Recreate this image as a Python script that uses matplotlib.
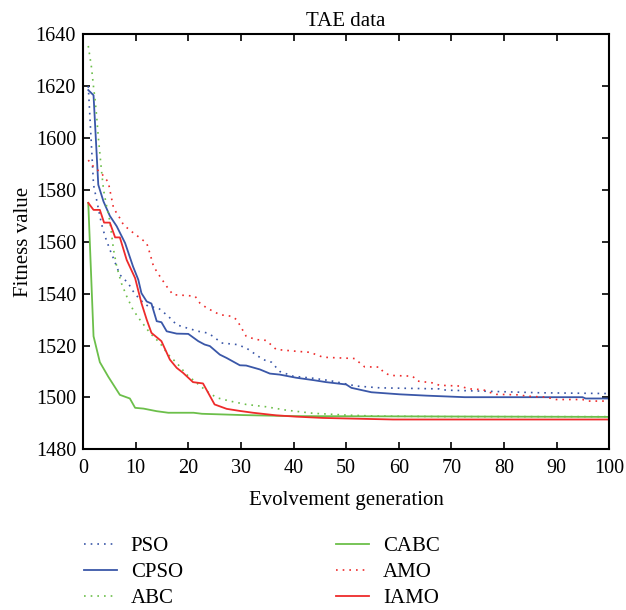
import numpy as np
import matplotlib
matplotlib.use("Agg")
import matplotlib.pyplot as plt

plt.rcParams['font.family'] = ['Liberation Serif', 'DejaVu Serif']
plt.rcParams['mathtext.fontset'] = 'stix'

# values (generation, fitness)
pso_x = [1, 2, 3, 3.5, 4.2, 5.1, 6.1, 7, 8.6, 9.5, 10.8, 12.4, 14.3, 16.2, 17.8, 19.7, 21.9,
         23.5, 24.7, 26.3, 29.2, 31, 34.2, 35.8, 37.4, 39.9, 43.7, 46.9, 50, 51.9, 56.4,
         67.7, 69, 76.6, 86.7, 100]
pso_y = [1620, 1582, 1572, 1567, 1562, 1557, 1552, 1547.3, 1544, 1541, 1537.7, 1535.1, 1534.5,
         1531.3, 1528, 1526.8, 1525.5, 1524.9, 1523.6, 1521, 1520.4, 1519.1, 1514.6, 1513.6,
         1510, 1508.2, 1507.4, 1506.5, 1505.2, 1504.4, 1503.7, 1503.3, 1502.8, 1502.4, 1501.8,
         1501.5]

cpso_x = [1, 2, 2.9, 3.9, 5.1, 6.4, 8, 9.5, 10.5, 11.1, 12.1, 13, 14, 14.9, 15.9, 17.8, 20,
          21.9, 23.1, 24.1, 26, 27.3, 29.8, 31, 33.6, 35.5, 37.4, 40.5, 43.7, 46.2, 50, 51,
          54.8, 60.2, 65.2, 72.5, 94.9, 95.5, 100]
cpso_y = [1618.5, 1616.5, 1582, 1575.5, 1570, 1566, 1559.5, 1550.5, 1545.4, 1540.2, 1537,
          1536.2, 1529.4, 1529, 1525.5, 1524.6, 1524.5, 1521.7, 1520.4, 1519.8, 1516.5, 1515.2,
          1512.4, 1512.3, 1510.8, 1509.2, 1508.8, 1507.6, 1506.7, 1505.9, 1505, 1503.7, 1502,
          1501.2, 1500.7, 1500.1, 1500.1, 1499.6, 1499.6]

abc_x = [1, 1.6, 2, 2.3, 2.6, 2.9, 3.2, 3.5, 3.9, 4.5, 5.1, 5.8, 6.4, 7.3, 8.3, 9.5, 10.8,
         12.7, 14.6, 16.2, 17.8, 19.7, 21.6, 23.5, 25.4, 27.9, 31, 34.8, 38.6, 43.7, 50, 56,
         70, 100]
abc_y = [1635.5, 1627.4, 1619.7, 1614.6, 1608.2, 1600.5, 1594.1, 1587.7, 1580, 1573.6, 1568,
         1557, 1550.5, 1544, 1539, 1533.8, 1530, 1524.9, 1521, 1516.5, 1513.3, 1508.8, 1505.6,
         1502.4, 1499.9, 1498.6, 1497.3, 1496.4, 1495.1, 1493.9, 1493.2, 1492.8, 1492.6,
         1492.6]

cabc_x = [1, 2, 3.2, 4.8, 7, 8.9, 9.9, 11.5, 14, 16.2, 21, 22.6, 30.4, 40, 100]
cabc_y = [1575, 1523.6, 1513.6, 1508, 1501, 1499.6, 1496, 1495.7, 1494.7, 1494.1, 1494.1,
          1493.7, 1493.2, 1492.8, 1492.5]

amo_x = [1, 1.8, 3.5, 4.8, 5.8, 7, 7.7, 9.2, 10.5, 12.1, 12.7, 13.4, 14.6, 15.9, 17.1, 19.7,
         21.3, 22.2, 23.5, 26, 28.2, 29.2, 30.1, 31, 32.9, 34.8, 36.7, 40.5, 43.1, 44.3,
         45.6, 51.6, 52.6, 53.5, 56.4, 57, 58.3, 62.6, 63.6, 66.5, 67.7, 71.5, 73.4, 76,
         77.2, 78.5, 83, 84.2, 88, 89.9, 94.9, 95.9, 100]
amo_y = [1591.5, 1589.4, 1586.4, 1583, 1573, 1569.1, 1566.5, 1564, 1562, 1559.5, 1555.6,
         1550.5, 1546.7, 1542.8, 1539.6, 1539.3, 1539, 1536.4, 1534.5, 1531.9, 1531.3, 1530,
         1526.8, 1523.6, 1522.3, 1522, 1518.5, 1517.8, 1517.4, 1516.5, 1515.5, 1515, 1513.3,
         1511.8, 1511.7, 1509.9, 1508.5, 1508.2, 1506.3, 1505.6, 1504.7, 1504.4, 1503.3,
         1503, 1502, 1501.2, 1501, 1500.5, 1500.1, 1499.2, 1499.2, 1498.6, 1498.6]

iamo_x = [1, 2, 3.2, 4, 5.1, 6.1, 7, 8.3, 9.9, 11.1, 12.1, 13, 14.9, 16.5, 17.8, 19, 20.9,
          22.8, 25, 27.3, 29.8, 32.3, 36.7, 40.5, 45.6, 58.9, 100]
iamo_y = [1575, 1572.3, 1572.3, 1567.4, 1567.4, 1561.7, 1561.7, 1553, 1546, 1536.4, 1530,
          1524.9, 1521.7, 1514.6, 1511.4, 1509.5, 1505.9, 1505.4, 1497.3, 1495.6, 1494.8,
          1494.1, 1493.1, 1492.6, 1492.1, 1491.5, 1491.5]

blue = '#3a57a8'
green = '#6cbf4a'
red = '#ee2b2b'
dot = (0, (1, 3))
fs = 15

fig = plt.figure(figsize=(6.26, 6.10), dpi=100)
ax = fig.add_axes([0.1326, 0.2634, 0.8408, 0.6804])

l1, = ax.plot(pso_x, pso_y, color=blue, lw=1.2, ls=dot, label='PSO')
l2, = ax.plot(cpso_x, cpso_y, color=blue, lw=1.3, label='CPSO')
l3, = ax.plot(abc_x, abc_y, color=green, lw=1.2, ls=dot, label='ABC')
l4, = ax.plot(cabc_x, cabc_y, color=green, lw=1.3, label='CABC')
l5, = ax.plot(amo_x, amo_y, color=red, lw=1.2, ls=dot, label='AMO')
l6, = ax.plot(iamo_x, iamo_y, color=red, lw=1.3, label='IAMO')

ax.set_xlim(0, 100)
ax.set_ylim(1480, 1640)
ax.set_xticks(np.arange(0, 101, 10))
ax.set_yticks(np.arange(1480, 1641, 20))
ax.tick_params(direction='in', top=True, right=True, length=5, width=1.2,
               labelsize=14.5, pad=5)
ax.tick_params(axis='x', pad=7)
for s in ax.spines.values():
    s.set_linewidth(1.5)

ax.set_title('TAE data', fontsize=fs, pad=6)
ax.set_xlabel('Evolvement generation', fontsize=fs, labelpad=9)
ax.set_ylabel('Fitness value', fontsize=fs, labelpad=2)

kw = dict(frameon=False, fontsize=fs, handlelength=1.6, handletextpad=0.65,
          labelspacing=0.3, borderaxespad=0, borderpad=0)
fig.legend(handles=[l1, l2, l3], loc='upper left', bbox_to_anchor=(0.134, 0.12), **kw)
fig.legend(handles=[l4, l5, l6], loc='upper left', bbox_to_anchor=(0.537, 0.12), **kw)

fig.savefig('out.png', dpi=100)
